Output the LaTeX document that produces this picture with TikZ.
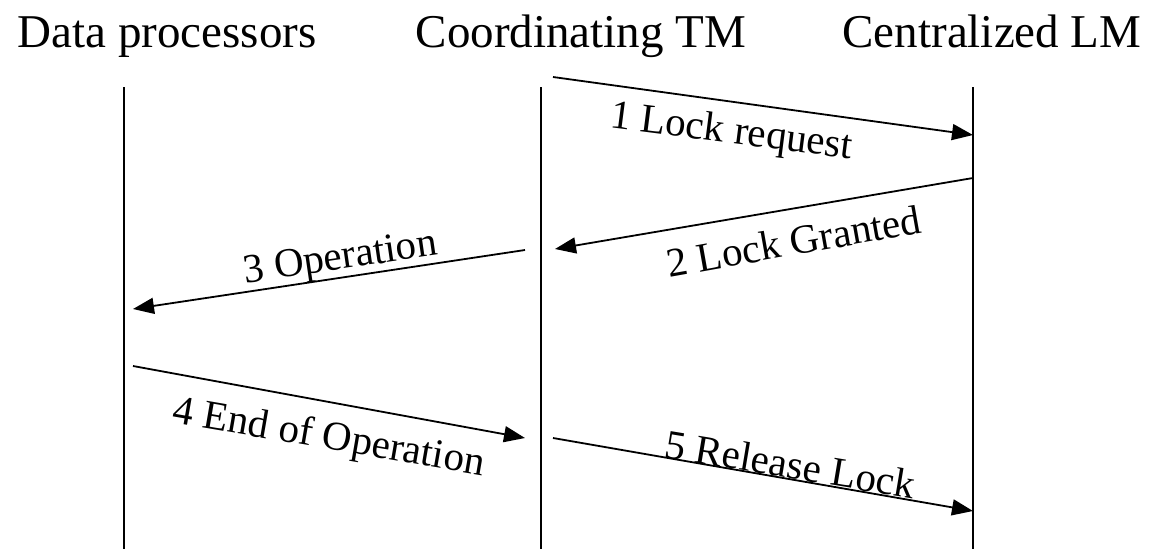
\documentclass[tikz,border=0pt]{standalone}
\usepackage{fontspec}
\setmainfont{Liberation Serif}
\usetikzlibrary{arrows.meta}
\begin{document}
\begin{tikzpicture}[x=1pt,y=-1pt,
  lifeline/.style={line width=1.8pt},
  msg/.style={line width=1.8pt,-{Triangle[length=21pt,width=16pt]}},
  title/.style={anchor=base,inner sep=0pt,font=\fontsize{47}{56}\selectfont},
  lbl/.style={anchor=base,inner sep=0pt,font=\fontsize{41}{50}\selectfont}]
\useasboundingbox (0,0) rectangle (1151,549);
% titles
\node[title] (tdp) at (167,47) {Data processors};
\node[title] (ttm) at (581,47) {Coordinating TM};
\node[title] (tlm) at (992,47) {Centralized LM};
% lifelines
\coordinate (dpT) at (124,87);  \coordinate (dpB) at (124,549);
\coordinate (tmT) at (541,87);  \coordinate (tmB) at (541,549);
\coordinate (lmT) at (973,87);  \coordinate (lmB) at (973,549);
\draw[lifeline] (dpT) -- (dpB);
\draw[lifeline] (tmT) -- (tmB);
\draw[lifeline] (lmT) -- (lmB);
% message end points
\coordinate (m1s) at (553,77);  \coordinate (m1e) at (973,135);
\coordinate (m2s) at (973,178); \coordinate (m2e) at (555,249);
\coordinate (m3s) at (525,250); \coordinate (m3e) at (133,309);
\coordinate (m4s) at (133,366); \coordinate (m4e) at (525,438);
\coordinate (m5s) at (553,438); \coordinate (m5e) at (973,511);
\draw[msg] (m1s) -- (m1e);
\draw[msg] (m2s) -- (m2e);
\draw[msg] (m3s) -- (m3e);
\draw[msg] (m4s) -- (m4e);
\draw[msg] (m5s) -- (m5e);
% labels
\node[lbl,rotate=-7.3] (l1) at (730,143) {1 Lock request};
\node[lbl,rotate=10.1] (l2) at (796,255) {2 Lock Granted};
\node[lbl,rotate=8.3] (l3) at (342,269) {3 Operation};
\node[lbl,rotate=-9.8] (l4) at (327,449) {4 End of Operation};
\node[lbl,rotate=-9.5] (l5) at (788,478) {5 Release Lock};
\end{tikzpicture}
\end{document}
